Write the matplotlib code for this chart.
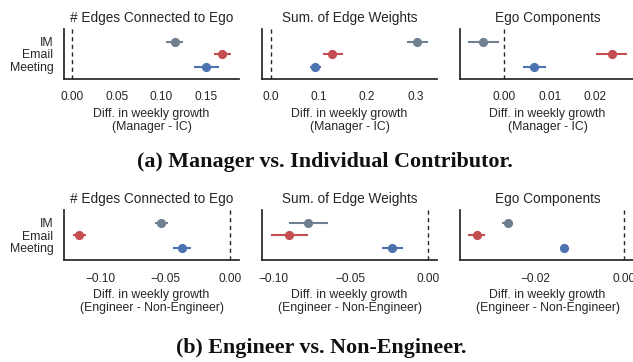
import matplotlib
matplotlib.use("Agg")
import matplotlib.pyplot as plt
import numpy as np

plt.rcParams['font.family'] = ['Liberation Sans', 'DejaVu Sans']
TXT = '#262626'

categories = ["IM", "Email", "Meeting"]
colors = ["#708090", "#c44e52", "#4c72b0"]
titles = ["# Edges Connected to Ego", "Sum. of Edge Weights", "Ego Components"]

# (a) Manager vs IC: estimate, CI low, CI high per metric (IM, Email, Meeting)
a_est = [[0.115, 0.168, 0.150], [0.304, 0.127, 0.091], [-0.0046, 0.0237, 0.0066]]
a_lo = [[0.105, 0.159, 0.136], [0.282, 0.108, 0.081], [-0.0079, 0.0202, 0.0042]]
a_hi = [[0.124, 0.178, 0.164], [0.327, 0.149, 0.105], [-0.0011, 0.0271, 0.0091]]
a_xlim = [(-0.0095, 0.187), (-0.018, 0.345), (-0.00975, 0.0288)]
a_ticks = [[0.00, 0.05, 0.10, 0.15], [0.0, 0.1, 0.2, 0.3], [0.00, 0.01, 0.02]]
a_ticklabels = [["0.00", "0.05", "0.10", "0.15"], ["0.0", "0.1", "0.2", "0.3"], ["0.00", "0.01", "0.02"]]

# (b) Engineer vs Non-Engineer
b_est = [[-0.0535, -0.1164, -0.0374], [-0.0776, -0.090, -0.0229], [-0.0264, -0.0335, -0.0135]]
b_lo = [[-0.058, -0.121, -0.044], [-0.090, -0.102, -0.0296], [-0.0277, -0.0355, -0.0138]]
b_hi = [[-0.048, -0.111, -0.030], [-0.065, -0.078, -0.0158], [-0.0252, -0.0317, -0.0132]]
b_xlim = [(-0.1277, 0.0066), (-0.1076, 0.006), (-0.0373, 0.0026)]
b_ticks = [[-0.10, -0.05, 0.00], [-0.10, -0.05, 0.00], [-0.02, 0.00]]
b_ticklabels = [["\u22120.10", "\u22120.05", "0.00"], ["\u22120.10", "\u22120.05", "0.00"], ["\u22120.02", "0.00"]]

xlabels = ["Diff. in weekly growth\n(Manager - IC)", "Diff. in weekly growth\n(Engineer - Non-Engineer)"]
captions = ["(a) Manager vs. Individual Contributor.", "(b) Engineer vs. Non-Engineer."]

W, H = 633, 362
fig = plt.figure(figsize=(W / 100, H / 100), dpi=100)
fig.patch.set_facecolor('white')

lefts = [64, 262, 460]
widths = [175, 175, 175]
row_tops = [29, 210]
ax_h = 50

rows = [(a_est, a_lo, a_hi, a_xlim, a_ticks, a_ticklabels),
        (b_est, b_lo, b_hi, b_xlim, b_ticks, b_ticklabels)]

for r, (est, lo, hi, xlim, ticks, tlabels) in enumerate(rows):
    for c in range(3):
        ax = fig.add_axes([lefts[c] / W, 1 - (row_tops[r] + ax_h) / H, widths[c] / W, ax_h / H])
        ax.axvline(0, color=TXT, ls=(0, (3, 2.5)), lw=1.0, zorder=1)
        for k, cat in enumerate(categories):
            e = est[c][k]
            ax.plot([lo[c][k], hi[c][k]], [k, k], color=colors[k], lw=1.5, solid_capstyle='butt', zorder=2)
            ax.plot([e], [k], 'o', color=colors[k], ms=5.6, zorder=3)
        ax.set_ylim(3.0, -1.0)
        ax.set_xlim(*xlim[c])
        ax.set_xticks(ticks[c])
        ax.set_xticklabels(tlabels[c])
        ax.set_yticks(range(len(categories)))
        if c == 0:
            ax.set_yticklabels(categories)
        else:
            ax.set_yticklabels([])
        ax.tick_params(axis='both', length=0, labelsize=8.6, colors=TXT)
        ax.tick_params(axis='x', pad=9)
        ax.tick_params(axis='y', pad=7.5, labelsize=8.8)
        for s in ['top', 'right']:
            ax.spines[s].set_visible(False)
        for s in ['left', 'bottom']:
            ax.spines[s].set_color(TXT)
            ax.spines[s].set_linewidth(1.25)
        ax.set_title(titles[c], fontsize=9.8, color=TXT, pad=5)
        ax.set_xlabel(xlabels[r], fontsize=8.8, color=TXT, labelpad=3, linespacing=1.15)
        ax.set_facecolor('white')

fig.text(325 / W, 1 - 161.7 / H, captions[0], ha='center', va='center',
         fontsize=15.8, fontweight='bold', family='Liberation Serif', color='#111111')
fig.text(321 / W, 1 - 348.3 / H, captions[1], ha='center', va='center',
         fontsize=15.8, fontweight='bold', family='Liberation Serif', color='#111111')

fig.savefig('out.png', dpi=100, facecolor='white')
